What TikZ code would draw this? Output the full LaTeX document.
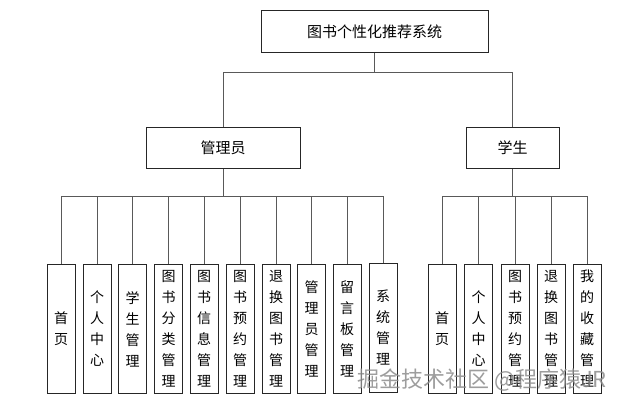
\documentclass[tikz,border=0pt]{standalone}
\usepackage{fontspec}
\setmainfont{Noto Sans CJK SC}
\begin{document}
\begin{tikzpicture}[x=1pt,y=-1pt,
  box/.style={draw=black!85,line width=0.9pt,fill=white,inner sep=0pt,anchor=north},
  topbox/.style={box,minimum width=227pt,minimum height=42pt,font=\fontsize{15}{18}\selectfont},
  midbox/.style={box,minimum height=41pt,font=\fontsize{15}{18}\selectfont},
  leaf/.style={box,minimum width=28pt,minimum height=129pt,align=center,font=\fontsize{14}{21}\selectfont},
  conn/.style={draw=black!65,line width=0.9pt}]
\useasboundingbox (0,0) rectangle (623,404);
\node[topbox] (top) at (374.5,10) {图书个性化推荐系统};
\node[midbox,minimum width=154pt] (admin) at (223,127) {管理员};
\node[midbox,minimum width=93pt] (stu) at (512.5,127) {学生};
\coordinate (j0) at (374.5,72);
\coordinate (j1) at (223,196);
\coordinate (j2) at (512.5,196);
\draw[conn] (top.south) -- (j0);
\draw[conn] (j0) -| (admin.north);
\draw[conn] (j0) -| (stu.north);
\draw[conn] (admin.south) -- (j1);
\draw[conn] (stu.south) -- (j2);
% admin leaves
\node[leaf] (a1) at (61,264) {首\\页};
\node[leaf] (a2) at (97,264) {个\\人\\中\\心};
\node[leaf] (a3) at (132.5,264) {学\\生\\管\\理};
\node[leaf] (a4) at (168.5,264) {图\\书\\分\\类\\管\\理};
\node[leaf] (a5) at (204,264) {图\\书\\信\\息\\管\\理};
\node[leaf] (a6) at (240,264) {图\\书\\预\\约\\管\\理};
\node[leaf] (a7) at (276,264) {退\\换\\图\\书\\管\\理};
\node[leaf] (a8) at (311.5,264) {管\\理\\员\\管\\理};
\node[leaf] (a9) at (347,264) {留\\言\\板\\管\\理};
\node[leaf] (a10) at (383,263) {系\\统\\管\\理};
\foreach \n in {a1,a2,a3,a4,a5,a6,a7,a8,a9,a10} \draw[conn] (j1) -| (\n.north);
% student leaves
\node[leaf] (s1) at (442,264) {首\\页};
\node[leaf] (s2) at (478.5,264) {个\\人\\中\\心};
\node[leaf] (s3) at (515,264) {图\\书\\预\\约\\管\\理};
\node[leaf] (s4) at (551,264) {退\\换\\图\\书\\管\\理};
\node[leaf] (s5) at (587,264) {我\\的\\收\\藏\\管\\理};
\foreach \n in {s1,s2,s3,s4,s5} \draw[conn] (j2) -| (\n.north);
% watermark
\node[text=black!45,opacity=0.85,font=\fontsize{22}{24}\selectfont,inner sep=0pt] (wm) at (482,380) {掘金技术社区 @程序猿JR};
\end{tikzpicture}
\end{document}
